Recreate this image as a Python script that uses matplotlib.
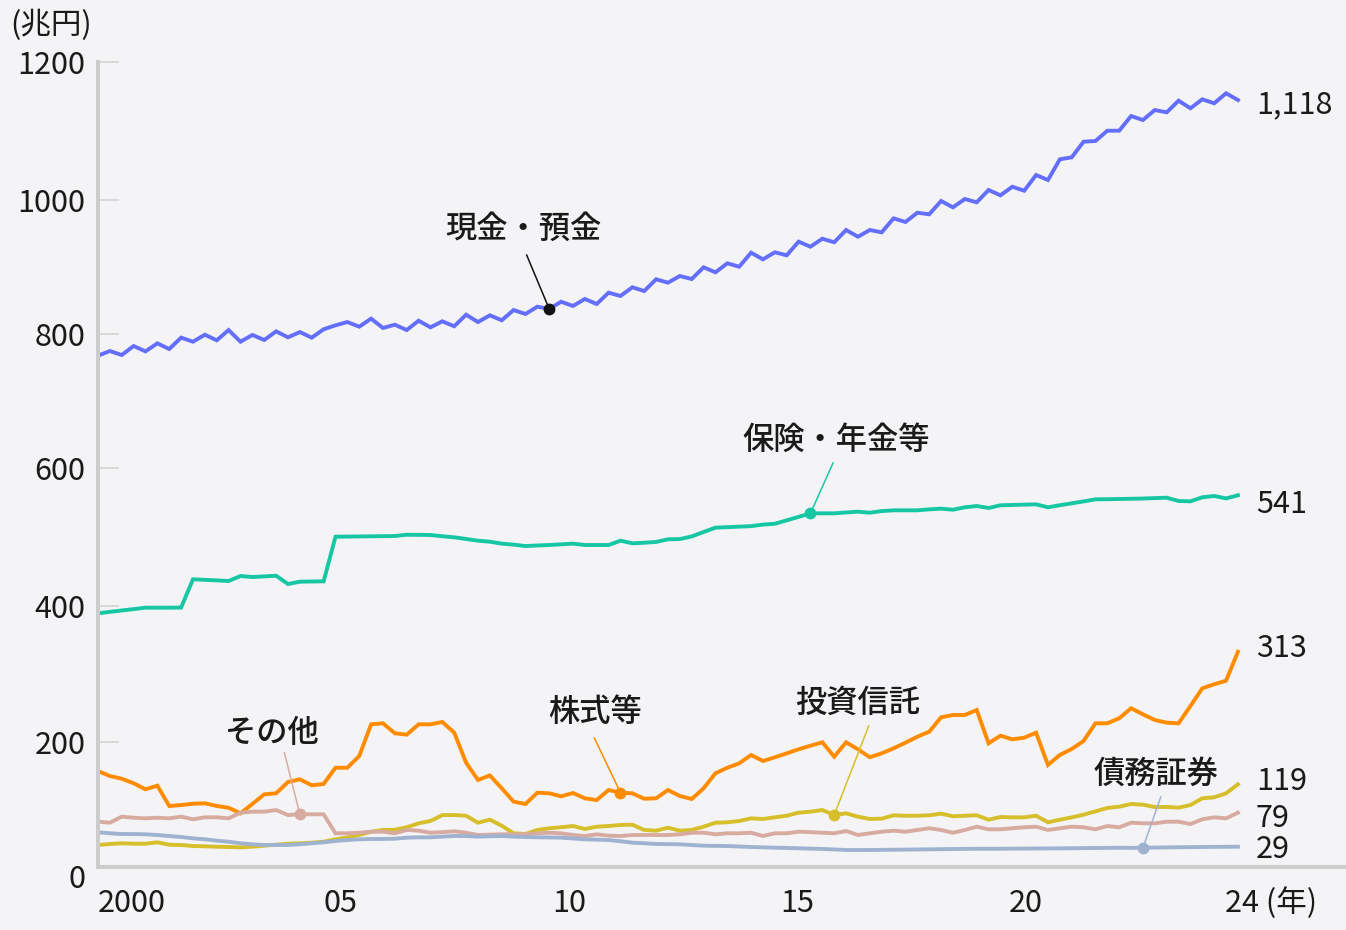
import matplotlib.pyplot as plt
import numpy as np

plt.rcParams['font.family'] = ['Noto Sans CJK JP', 'DejaVu Sans']

# quarterly, 2000Q1 .. 2024Q1 (index 0..96), 兆円
quarters = np.arange(97)

cash = [745.1, 751.9, 746.1, 759.2, 751.4, 763.1, 754.8, 771.4, 765.5, 775.7,
        767.5, 782.5, 765.5, 775.3, 768.0, 780.6, 771.9, 779.6, 771.4, 783.6,
        789.4, 794.2, 787.4, 799.1, 785.5, 790.3, 782.5, 796.1, 786.5, 795.2,
        788.0, 804.9, 794.2, 804.0, 796.7, 811.7, 805.9, 816.6, 813.2, 823.8,
        817.6, 827.8, 820.5, 837.0, 832.2, 844.8, 839.4, 856.5, 851.6, 861.3,
        856.9, 874.0, 866.7, 879.8, 874.9, 895.3, 885.6, 895.9, 891.5, 911.4,
        904.1, 915.7, 910.5, 928.4, 918.6, 928.4, 925.0, 945.4, 940.1, 953.6,
        951.3, 970.7, 961.5, 973.6, 968.8, 986.7, 979.0, 991.5, 985.7, 1008.6,
        1001.3, 1031.5, 1034.4, 1057.2, 1058.2, 1073.2, 1073.2, 1094.6, 1088.8, 1103.4,
        1100.0, 1117.0, 1105.9, 1119.0, 1113.2, 1127.8, 1118.0]

insurance = [369.4, 371.5, 373.5, 375.5, 377.6, 377.6, 377.6, 377.8, 419.0, 418.2,
             417.4, 416.5, 423.8, 422.3, 423.2, 424.2, 412.1, 415.5, 415.8, 416.0,
             481.1, 481.3, 481.5, 481.7, 481.9, 482.1, 484.0, 483.8, 483.6, 481.8,
             480.2, 477.8, 475.3, 473.8, 471.0, 469.5, 467.5, 468.3, 469.0, 470.0,
             471.0, 469.0, 469.0, 469.0, 475.3, 471.5, 472.3, 473.5, 477.3, 477.7,
             481.5, 488.0, 494.3, 495.0, 495.8, 496.5, 498.8, 500.0, 505.0, 510.0,
             515.2, 515.2, 515.2, 516.5, 517.6, 516.1, 518.5, 519.6, 519.6, 519.6,
             521.0, 522.0, 520.5, 524.0, 525.9, 523.0, 526.9, 527.4, 527.9, 528.3,
             524.0, 527.0, 529.8, 532.6, 535.6, 535.8, 536.1, 536.4, 536.8, 537.4,
             538.0, 533.2, 532.7, 538.6, 540.5, 537.0, 541.5]

stocks = [139.4, 132.1, 128.2, 121.5, 112.7, 118.0, 88.4, 89.8, 91.7, 92.3,
          88.4, 85.9, 77.7, 91.3, 105.4, 106.9, 123.4, 127.3, 118.6, 120.5,
          144.2, 144.2, 161.3, 207.5, 209.0, 194.4, 192.4, 207.5, 207.5, 210.9,
          195.3, 151.5, 126.3, 133.0, 114.2, 94.7, 91.3, 107.8, 106.9, 102.5,
          107.3, 99.6, 97.1, 111.7, 107.8, 106.9, 99.0, 99.6, 111.7, 103.0,
          98.6, 114.2, 136.1, 144.2, 150.6, 162.8, 154.0, 159.4, 165.2, 171.1,
          176.3, 181.3, 160.3, 181.3, 171.1, 159.5, 165.2, 172.5, 180.7, 189.4,
          196.7, 217.7, 221.1, 221.1, 228.4, 179.8, 190.9, 185.6, 188.0, 195.3,
          148.2, 162.8, 171.5, 183.2, 209.0, 209.0, 216.3, 230.9, 222.1, 213.8,
          209.9, 209.0, 234.2, 260.0, 265.9, 271.1, 313.4]

funds = [31.5, 33.0, 34.0, 33.4, 33.4, 35.4, 31.9, 31.5, 30.0, 29.6,
         29.0, 28.6, 28.1, 29.0, 30.5, 31.9, 33.4, 34.0, 34.9, 36.3,
         39.8, 42.7, 46.1, 50.9, 53.4, 53.8, 57.3, 63.1, 66.5, 75.2,
         75.2, 74.2, 64.0, 68.5, 59.6, 48.6, 47.5, 53.4, 55.9, 57.3,
         59.2, 54.8, 58.2, 59.2, 60.7, 61.1, 53.4, 52.4, 56.7, 52.4,
         53.4, 58.2, 64.0, 64.6, 66.5, 70.4, 69.4, 71.9, 74.2, 78.6,
         80.1, 82.5, 75.2, 77.7, 72.8, 69.5, 69.9, 74.8, 74.2, 74.2,
         74.8, 77.2, 73.4, 74.2, 74.8, 68.4, 72.3, 71.8, 71.8, 74.2,
         64.6, 68.4, 71.8, 75.7, 80.6, 85.5, 87.4, 91.3, 90.3, 86.9,
         87.0, 86.0, 89.8, 99.6, 101.0, 106.9, 120.0]

others = [65.5, 64.0, 72.8, 71.3, 70.4, 71.3, 70.4, 72.8, 69.0, 71.9,
          71.9, 70.4, 78.6, 80.1, 80.1, 82.5, 75.2, 76.3, 76.3, 76.3,
          48.6, 48.6, 49.4, 50.9, 50.9, 48.6, 53.4, 52.4, 49.4, 50.2,
          51.5, 49.4, 46.1, 46.6, 47.1, 47.1, 47.1, 48.6, 49.4, 48.6,
          46.1, 44.6, 47.1, 45.2, 44.6, 46.1, 46.1, 46.1, 46.1, 47.1,
          49.4, 49.4, 47.1, 48.6, 48.6, 49.4, 44.6, 48.6, 48.6, 50.9,
          50.2, 49.4, 48.6, 51.9, 46.1, 48.6, 50.9, 52.4, 50.9, 53.4,
          55.9, 53.4, 49.4, 53.4, 58.2, 54.4, 54.4, 55.9, 57.3, 58.2,
          53.4, 55.9, 58.2, 57.3, 54.4, 59.2, 57.3, 64.0, 63.1, 63.1,
          65.5, 65.5, 62.1, 69.0, 71.9, 70.4, 78.6]

bonds = [50.0, 48.6, 47.5, 47.5, 47.1, 46.1, 44.6, 43.2, 41.2, 39.8,
         37.8, 36.3, 34.0, 32.5, 31.5, 31.5, 31.5, 32.5, 34.0, 35.4,
         37.3, 38.8, 39.8, 40.3, 40.3, 40.7, 42.2, 42.7, 42.7, 43.7,
         44.6, 44.6, 43.7, 44.2, 44.6, 43.7, 43.2, 42.7, 42.5, 42.2,
         41.0, 39.8, 39.3, 38.8, 37.0, 34.9, 34.0, 33.0, 32.8, 32.5,
         31.5, 30.5, 30.2, 30.0, 29.3, 28.6, 28.1, 27.6, 27.2, 26.7,
         26.2, 25.7, 25.0, 24.2, 24.2, 24.2, 24.4, 24.6, 24.8, 25.0,
         25.2, 25.4, 25.6, 25.8, 26.0, 26.0, 26.0, 26.2, 26.3, 26.4,
         26.5, 26.6, 26.8, 27.0, 27.1, 27.3, 27.4, 27.3, 27.5, 27.8,
         28.0, 28.2, 28.4, 28.6, 28.8, 28.9, 29.0]

names = ["現金・預金", "保険・年金等", "株式等", "投資信託", "その他", "債務証券"]
end_text = ["1,118", "541", "313", "119", "79", "29"]
colors = ["#636EFA", "#17C7A4", "#FF8C00", "#D6BF2A", "#D8ABA1", "#9FB3D1"]
pointer_colors = ["#111111", "#17C7A4", "#FF8C00", "#D6BF2A", "#D8ABA1", "#9FB3D1"]
all_series = [cash, insurance, stocks, funds, others, bonds]

# label / pointer placement (x in quarter index, y in 兆円)
name_pos = [(35.8, 929.6), (62.2, 622.1), (41.9, 225.5), (64.0, 238.6), (14.65, 195.0), (89.1, 134.9)]
pointer_top = [(36.1, 891.9), (61.9, 588.6), (41.8, 187.6), (64.9, 205.0), (15.7, 165.8), (89.5, 101.5)]
pointer_idx = [38, 60, 44, 62, 17, 88]
end_label_y = [1111.0, 528.0, 318.0, 124.0, 70.0, 25.0]

# y tick marks as drawn in the reference (shifted slightly below the data scale)
ytick_pos = [181.2, 379.5, 581.3, 777.4, 972.2, 1174.1]
ytick_lab = ["200", "400", "600", "800", "1000", "1200"]
xtick_pos = [0, 20.4, 39.7, 58.9, 78.1, 94.9]
xtick_lab = ["2000", "05", "10", "15", "20", "24 (年)"]

bg = "#F4F4F7"
W, H = 1346, 930
fig = plt.figure(figsize=(W / 100, H / 100), dpi=100, facecolor=bg)
ax = fig.add_axes([98 / W, 63.4 / H, 1248 / W, 826.6 / H], facecolor=bg)

for s, c in zip(all_series, colors):
    ax.plot(quarters, s, color=c, lw=2.8, solid_joinstyle='miter', zorder=2)

for i in range(len(names)):
    s = all_series[i]
    k = pointer_idx[i]
    pc = pointer_colors[i]
    ax.plot([pointer_top[i][0], quarters[k]], [pointer_top[i][1], s[k]], color=pc, lw=1.1, zorder=3)
    ax.plot(quarters[k], s[k], 'o', color=pc, ms=7.5, zorder=4)
    ax.text(name_pos[i][0], name_pos[i][1], names[i], ha='center', va='center',
            fontsize=22.5, fontweight='medium', color='#1a1a1a')
    ax.text(97.5, end_label_y[i], end_text[i], ha='left', va='center',
            fontsize=22, color='#1a1a1a', clip_on=False)

ax.set_xlim(0, 105.1)
ax.set_ylim(0, 1205.5)

for side in ['top', 'right']:
    ax.spines[side].set_visible(False)
for side in ['left', 'bottom']:
    ax.spines[side].set_color('#cccccc')
    ax.spines[side].set_linewidth(2.9)
ax.spines['left'].set_bounds(0, ytick_pos[-1])

ax.set_yticks(ytick_pos, ytick_lab)
ax.tick_params(axis='y', direction='in', length=15, width=1.2, color='#d4d4d4',
               pad=9, labelsize=22, labelcolor='#1a1a1a')
ax.annotate("0", xy=(0, -19.5), xycoords=('axes fraction', 'data'), xytext=(-13, 0),
            textcoords='offset pixels', ha='right', va='center', fontsize=22,
            color='#1a1a1a', annotation_clip=False)

ax.set_xticks([])
for xp, lab in zip(xtick_pos, xtick_lab):
    ha = 'center'
    if lab == "2000" or lab.startswith("24"):
        ha = 'left'
    ax.annotate(lab, xy=(xp, 0), xycoords=('data', 'axes fraction'), xytext=(0, -37),
                textcoords='offset pixels', ha=ha, va='center', fontsize=22,
                color='#1a1a1a', annotation_clip=False)

fig.text(10 / W, 1 - 25 / H, "(兆円)", ha='left', va='center', fontsize=22, color='#1a1a1a')

fig.savefig("out.png", dpi=100, facecolor=bg)
